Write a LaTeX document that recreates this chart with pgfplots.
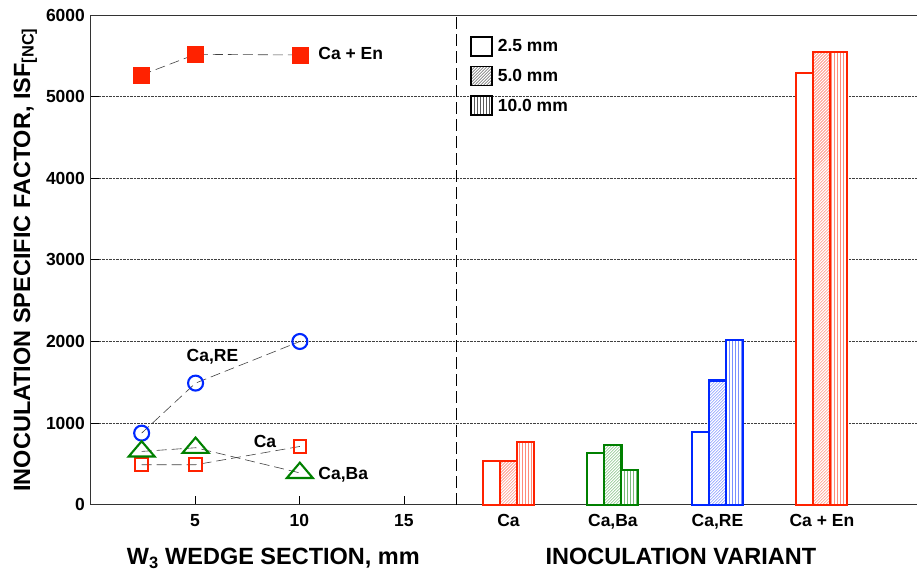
\documentclass[border=0pt]{standalone}
\usepackage{fontspec}
\setmainfont{Liberation Sans}
\usepackage{pgfplots}
\pgfplotsset{compat=1.18}
\usetikzlibrary{patterns}
\definecolor{cred}{RGB}{255,34,0}
\definecolor{cblue}{RGB}{0,40,255}
\definecolor{cgreen}{RGB}{0,128,0}
\pgfplotsset{
  mybar/.style={ybar, bar width=0.82, line width=2.1pt, fill=white, forget plot},
  conn/.style={black!75, line width=0.6pt, dash pattern=on 10pt off 5pt, forget plot},
}
\newcommand{\tfont}{\bfseries\fontsize{17.5}{20}\selectfont}
\newcommand{\lfont}{\bfseries\fontsize{23.5}{26}\selectfont}
\begin{document}
\begin{tikzpicture}
\begin{axis}[name=ax, scale only axis, width=827pt, height=490pt,
  xmin=0, xmax=39.55, ymin=0, ymax=6000,
  axis x line*=box, axis y line*=left,
  xtick={5,10,15}, ytick={0,1000,...,6000},
  extra x ticks={20,25,30,35},
  extra x tick labels={Ca,{Ca,Ba},{Ca,RE},Ca + En},
  extra x tick style={major tick length=0pt},
  xtick pos=left, ytick pos=left, tick align=inside, major tick length=9pt,
  tick style={black, line width=0.8pt},
  axis line style={black!80, line width=0.8pt},
  ymajorgrids, grid style={densely dotted, black!75, line width=0.8pt},
  ticklabel style={font=\tfont},
  xticklabel style={yshift=-6pt},
  yticklabel style={xshift=-2pt},
  /pgf/number format/assume math mode=true,
  scaled y ticks=false,
  yticklabel style={/pgf/number format/set thousands separator={}},
  ylabel={INOCULATION SPECIFIC FACTOR, ISF\textsubscript{[NC]}},
  ylabel style={font=\lfont, yshift=2pt},
  clip=false,
  legend style={at={(0.455,0.962)}, anchor=north west, draw=none, fill=none,
    font=\tfont, row sep=9pt, cells={anchor=west}},
  legend image code/.code={\draw[#1, line width=1.8pt] (0pt,-9.5pt) rectangle (21pt,9.5pt); \path (25pt,0pt);},
]
% separator
\addplot[black, line width=0.8pt, dash pattern=on 12pt off 5pt, forget plot] coordinates {(17.5,0) (17.5,6000)};

% left: wedge section
\addplot[conn, mark=square*, mark size=8pt, mark options={solid, draw=cred, fill=cred}] coordinates {(2.45,5265) (5.03,5518) (10.02,5510)};
\addplot[conn, mark=o, mark size=7.5pt, mark options={solid, draw=cblue, line width=2.1pt}] coordinates {(2.45,877) (5.03,1490) (10.02,2000)};
\addplot[conn, mark=square, mark size=6.3pt, mark options={solid, draw=cred, line width=2.1pt}] coordinates {(2.45,490) (5.03,490) (10.02,714)};
\addplot[conn, mark=triangle, mark size=15pt, mark options={solid, draw=cgreen, line width=2.1pt, yscale=0.68}] coordinates {(2.45,653) (5.03,698) (10.02,390)};

\node[anchor=west, font=\tfont] at (axis cs:10.74,5530) {Ca + En};
\node[font=\tfont] at (axis cs:5.84,1816) {Ca,RE};
\node[font=\tfont] at (axis cs:8.35,775) {Ca};
\node[anchor=west, font=\tfont] at (axis cs:10.74,367) {Ca,Ba};

% right: bars
\addplot[mybar, bar shift=-0.81, draw=cred] coordinates {(20,535) (35,5285)};
\addplot[mybar, bar shift=-0.81, draw=cgreen] coordinates {(25,632)};
\addplot[mybar, bar shift=-0.81, draw=cblue] coordinates {(30,886)};

\addplot[mybar, bar shift=0, draw=cred, postaction={pattern=north east lines, pattern color=cred!65}] coordinates {(20,535) (35,5543)};
\addplot[mybar, bar shift=0, draw=cgreen, postaction={pattern=north east lines, pattern color=cgreen!65}] coordinates {(25,735)};
\addplot[mybar, bar shift=0, draw=cblue, postaction={pattern=north east lines, pattern color=cblue!65}] coordinates {(30,1522)};

\addplot[mybar, bar shift=0.81, draw=cred, postaction={pattern=vertical lines, pattern color=cred!80}] coordinates {(20,767) (35,5543)};
\addplot[mybar, bar shift=0.81, draw=cgreen, postaction={pattern=vertical lines, pattern color=cgreen!80}] coordinates {(25,428)};
\addplot[mybar, bar shift=0.81, draw=cblue, postaction={pattern=vertical lines, pattern color=cblue!80}] coordinates {(30,2020)};

% legend
\addlegendimage{draw=black, fill=white}
\addlegendentry{2.5 mm}
\addlegendimage{draw=black, fill=white, postaction={pattern=north east lines, pattern color=black!80}}
\addlegendentry{5.0 mm}
\addlegendimage{draw=black, fill=white, postaction={pattern=vertical lines, pattern color=black}}
\addlegendentry{10.0 mm}

% axis titles
\node[font=\lfont, anchor=base] at (axis cs:8.75,0) [yshift=-60pt] {W\textsubscript{3} WEDGE SECTION, mm};
\node[font=\lfont, anchor=base] at (axis cs:28.25,0) [yshift=-60pt] {INOCULATION VARIANT};
\end{axis}
\pgfresetboundingbox
\path ([shift={(-90.5pt,-67pt)}]ax.south west) rectangle ([shift={(0pt,15pt)}]ax.north east);
\end{tikzpicture}
\end{document}
